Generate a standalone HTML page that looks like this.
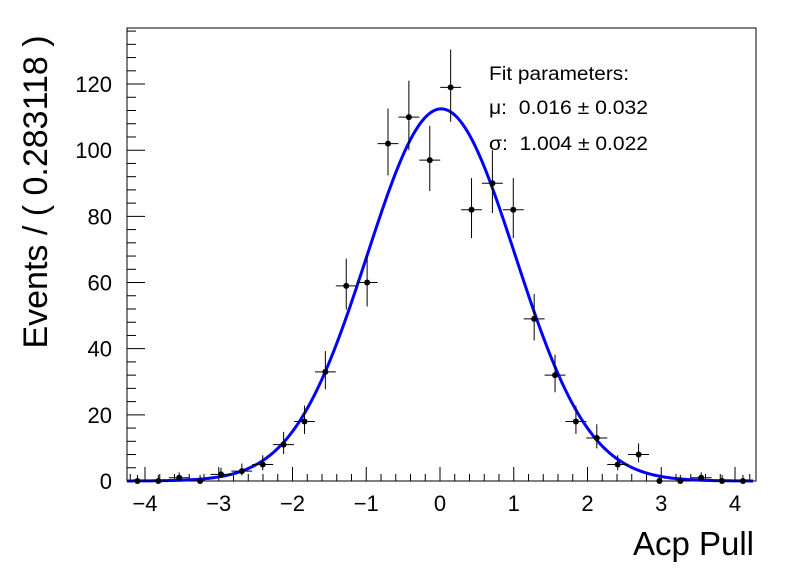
<!DOCTYPE html>
<html><head><meta charset="utf-8"><style>
body{margin:0;background:#fff;}
svg{display:block;font-family:"Liberation Sans",sans-serif;}
.pre{white-space:pre;}
</style></head><body>
<svg id="chart" width="796" height="572">
<rect x="0" y="0" width="796" height="572" fill="#fff"/>
<g id="frame"></g><g id="marks"></g>
<text x="489" y="80" font-size="19" textLength="140" lengthAdjust="spacingAndGlyphs">Fit parameters:</text>
<text class="pre" x="489" y="114" font-size="19" textLength="159" lengthAdjust="spacingAndGlyphs">μ:  0.016 ± 0.032</text>
<text class="pre" x="489" y="150" font-size="19" textLength="159" lengthAdjust="spacingAndGlyphs">σ:  1.004 ± 0.022</text>
<text transform="translate(47,192) rotate(-90)" text-anchor="middle" font-size="34">Events / ( 0.283118 )</text>
<text x="754" y="555" text-anchor="end" font-size="33">Acp Pull</text>
</svg>
<script>
const counts=[0,0,1,0,2,3,5,11,18,33,59,60,102,110,97,119,82,90,82,49,32,18,13,5,8,0,0,1,0,0];
const xTicks=[-4,-3,-2,-1,0,1,2,3,4];
const yTicks=[0,20,40,60,80,100,120];
const fitMu=0.016, fitSigma=1.004, total=1000, binW=0.283118, xMin=-4.244;
const L=127,R=756,T=28,B=481;
const xs=v=>145+(v+4)*73.75;
const ys=v=>481-v*3.308;
const NS="http://www.w3.org/2000/svg";
function mk(tag,attrs,parent,txt){const e=document.createElementNS(NS,tag);for(const k in attrs)e.setAttribute(k,attrs[k]);if(txt!==undefined)e.textContent=txt;parent.appendChild(e);return e;}
const fr=document.getElementById('frame'), mg=document.getElementById('marks');
const box=mk('rect',{x:L,y:T,width:R-L,height:B-T,fill:'none',stroke:'#000','stroke-width':1},fr);


for(let v=-4.2;v<=4.25;v+=0.2){const r=Math.round(v*10)/10;const maj=Math.abs(r-Math.round(r))<1e-6;const x=xs(r);if(x<L||x>R)continue;
 mk('line',{x1:x,y1:B,x2:x,y2:B-(maj?14:7),stroke:'#000'},fr);}
xTicks.forEach(v=>{const t=mk('text',{x:xs(v),y:511,'text-anchor':'middle','font-size':22},fr,v<0?'\u2212'+(-v):String(v));
 
 });
for(let v=0;v<=136;v+=4){const maj=v%20===0;const y=ys(v);mk('line',{x1:L,y1:y,x2:L+(maj?18:9),y2:y,stroke:'#000'},fr);}
yTicks.forEach(v=>{const t=mk('text',{x:112,y:ys(v)+8,'text-anchor':'end','font-size':22},fr,String(v));
 
 });
const amp=total*binW/(fitSigma*Math.sqrt(2*Math.PI));
let d='';for(let i=0;i<=400;i++){const v=xMin+i*(8.49/400);const y=amp*Math.exp(-0.5*((v-fitMu)/fitSigma)**2);d+=(i?'L':'M')+xs(v).toFixed(2)+','+ys(y).toFixed(2);}
const c=mk('path',{d:d,fill:'none',stroke:'#0000ff','stroke-width':3},mg);


counts.forEach((n,i)=>{const cx=xMin+binW*(i+0.5);const x=xs(cx);const y=ys(n);
 const up=n===0?1.84:Math.sqrt(n+0.25)+0.5, lo=n===0?0:Math.sqrt(n+0.25)-0.5;
 const g=mk('g',{},mg);
 
 
 mk('line',{x1:xs(cx-binW/2),y1:y,x2:xs(cx+binW/2),y2:y,stroke:'#000'},g);
 mk('line',{x1:x,y1:ys(n+up),x2:x,y2:ys(n-lo),stroke:'#000'},g);
 mk('circle',{cx:x,cy:y,r:3,fill:'#000'},g);});
</script>
</body></html>
